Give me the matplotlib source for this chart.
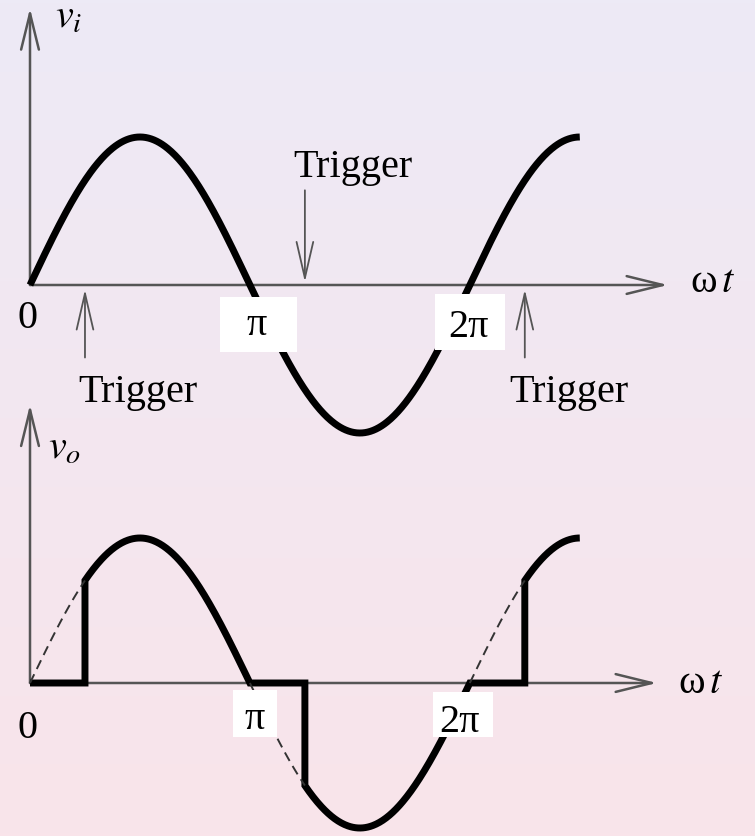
import numpy as np
import matplotlib
matplotlib.use("Agg")
import matplotlib.pyplot as plt
from matplotlib.patches import Rectangle

plt.rcParams['font.family'] = ['Liberation Serif', 'DejaVu Serif']
plt.rcParams['mathtext.fontset'] = 'stix'

# Kąt wyzwalania tyrystora i zakres rysowanego przebiegu (w radianach).
alfa = np.pi / 4
koniec = 2.5 * np.pi

# Chwile wyzwalania zaznaczone strzałkami.
wyzwolenia = [alfa, np.pi + alfa, 2 * np.pi + alfa]

# Podpisy osi poziomej.
etykiety_osi = ["0", "π", "2π"]
polozenia_osi = [0.0, np.pi, 2 * np.pi]

# Rozmiar rysunku w pikselach i skala: piksele na radian, piksele na amplitudę.
W, H = 755, 836
X0, PX_RAD = 30, 70
ZERO_GORA, AMP_GORA = 285, 148
ZERO_DOL, AMP_DOL = 683, 145

fig = plt.figure(figsize=(W / 100, H / 100), dpi=100)

# Tło z delikatnym gradientem.
tlo = fig.add_axes([0, 0, 1, 1])
gora_rgb = np.array([237, 234, 246]) / 255
dol_rgb = np.array([249, 228, 234]) / 255
t = np.linspace(0, 1, 256)[:, None]
grad = (1 - t) * gora_rgb + t * dol_rgb
tlo.imshow(grad[:, None, :], aspect='auto', extent=[0, 1, 0, 1])
tlo.axis('off')


def panel(zero, amp):
    ax = fig.add_axes([0, 0, 1, 1])
    ax.set_xlim(-X0 / PX_RAD, (W - X0) / PX_RAD)
    ax.set_ylim(-(H - zero) / amp, zero / amp)
    ax.axis('off')
    ax.patch.set_alpha(0)
    return ax


def strzalka(ax, start, tip, lw=1.8, kolor='#555555', dl=1.3, sz=0.32):
    ax.annotate('', xy=tip, xytext=start,
                arrowprops=dict(arrowstyle='->, head_length=%g, head_width=%g' % (dl, sz),
                                lw=lw, color=kolor, mutation_scale=20,
                                shrinkA=0, shrinkB=0), zorder=1)


FS = 29
os_kolor = '#555555'

# ---- Napięcie wejściowe v_i ----
ax1 = panel(ZERO_GORA, AMP_GORA)
th = np.linspace(0, koniec, 600)
ax1.plot(th, np.sin(th), color='black', lw=5, solid_capstyle='butt', zorder=2)
strzalka(ax1, (0, 0), ((668 - X0) / PX_RAD, 0), kolor=os_kolor)
strzalka(ax1, (0, 0), (0, 1.87), kolor=os_kolor)
ax1.text(0.36, 1.74, r'$v_i$', fontsize=FS, ha='left', va='baseline')
ax1.text(9.43, -0.05, r'ω$\,t$', fontsize=FS, ha='left', va='baseline')

# strzałki "Trigger": pod osią, nad osią, pod osią
strzalka(ax1, (wyzwolenia[0], -0.49), (wyzwolenia[0], -0.03), lw=1.3, dl=1.3, sz=0.3)
strzalka(ax1, (wyzwolenia[1], 0.64), (wyzwolenia[1], 0.02), lw=1.3, dl=1.3, sz=0.3)
strzalka(ax1, (wyzwolenia[2], -0.49), (wyzwolenia[2], -0.03), lw=1.3, dl=1.3, sz=0.3)
ax1.text(1.54, -0.79, "Trigger", fontsize=FS, ha='center', va='baseline')
ax1.text(4.61, 0.73, "Trigger", fontsize=FS, ha='center', va='baseline')
ax1.text(7.70, -0.79, "Trigger", fontsize=FS, ha='center', va='baseline')

# białe podkładki pod etykietami π i 2π
for (x0, x1, y0, y1) in [(2.71, 3.81, -0.45, -0.08), (5.79, 6.79, -0.44, -0.06)]:
    ax1.add_patch(Rectangle((x0, y0), x1 - x0, y1 - y0, color='white', lw=0, zorder=3))
ax1.text(polozenia_osi[0] - 0.03, -0.29, etykiety_osi[0], fontsize=FS, ha='center', va='baseline', zorder=4)
ax1.text(3.24, -0.34, etykiety_osi[1], fontsize=FS, ha='center', va='baseline', zorder=4)
ax1.text(6.26, -0.35, etykiety_osi[2], fontsize=FS, ha='center', va='baseline', zorder=4)

# ---- Napięcie wyjściowe v_o ----
ax2 = panel(ZERO_DOL, AMP_DOL)
# w każdym półokresie: zero do chwili wyzwolenia, skok, potem sinusoida
xs, ys = [], []
for k in range(3):
    a = k * np.pi
    b = min((k + 1) * np.pi, koniec)
    luk = np.linspace(a + alfa, b, 200)
    xs += [a, a + alfa] + list(luk)
    ys += [0.0, 0.0] + list(np.sin(luk))
ax2.plot(xs, ys, color='black', lw=5, solid_joinstyle='miter', solid_capstyle='butt', zorder=2)
# przerywane fragmenty sinusoidy przed wyzwoleniem
for k in range(3):
    odc = np.linspace(k * np.pi, k * np.pi + alfa, 50)
    ax2.plot(odc, np.sin(odc), color='#333333', lw=1.4, dashes=(5, 3), zorder=2)
strzalka(ax2, (0, 0), ((657 - X0) / PX_RAD, 0), kolor=os_kolor)
strzalka(ax2, (0, 0), (0, 1.92), kolor=os_kolor)
ax2.text(0.26, 1.55, r'$v_o$', fontsize=FS, ha='left', va='baseline')
ax2.text(9.26, -0.07, r'ω$\,t$', fontsize=FS, ha='left', va='baseline')

for (x0, x1, y0, y1) in [(2.90, 3.53, -0.37, -0.05), (5.76, 6.61, -0.37, -0.06)]:
    ax2.add_patch(Rectangle((x0, y0), x1 - x0, y1 - y0, color='white', lw=0, zorder=3))
ax2.text(polozenia_osi[0] - 0.03, -0.38, etykiety_osi[0], fontsize=FS, ha='center', va='baseline', zorder=4)
ax2.text(3.21, -0.32, etykiety_osi[1], fontsize=FS, ha='center', va='baseline', zorder=4)
ax2.text(6.14, -0.34, etykiety_osi[2], fontsize=FS, ha='center', va='baseline', zorder=4)

plt.savefig("out.png", dpi=100)
